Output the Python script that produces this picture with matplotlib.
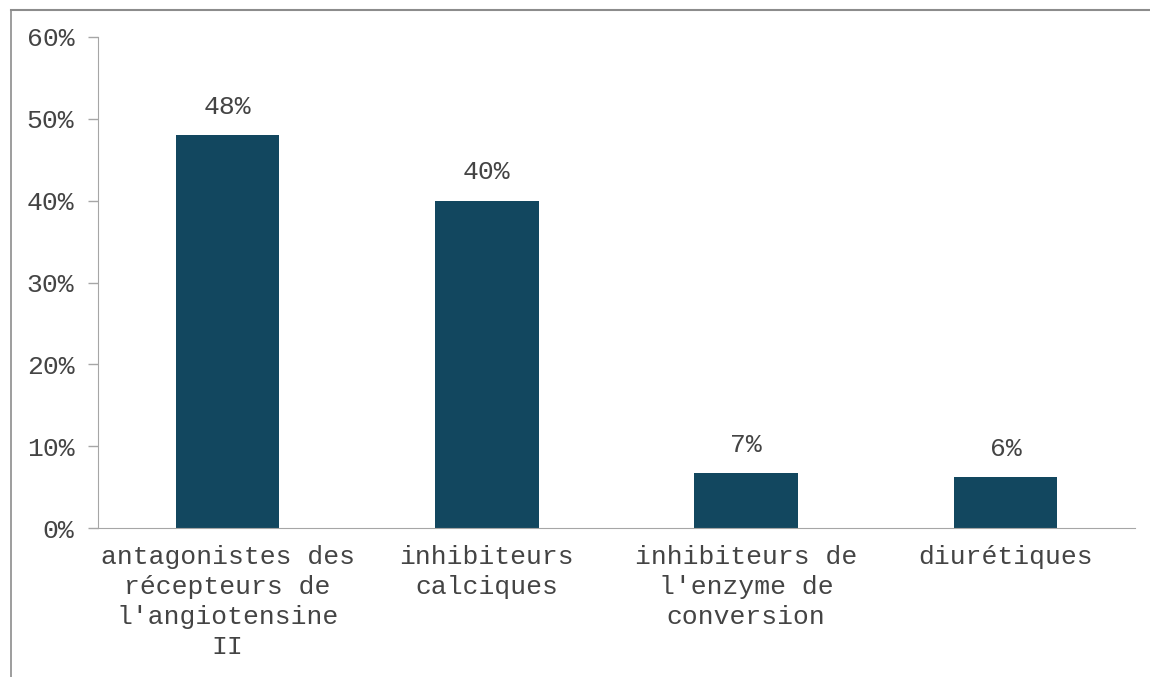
import matplotlib
matplotlib.use("Agg")
import matplotlib.pyplot as plt
from matplotlib.ticker import FuncFormatter, MultipleLocator
from matplotlib.lines import Line2D

categories = [
    "antagonistes des\nrécepteurs de\nl'angiotensine\nII",
    "inhibiteurs\ncalciques",
    "inhibiteurs de\nl'enzyme de\nconversion",
    "diurétiques",
]
shares = [48.0, 40.0, 6.7, 6.2]

bar_color = "#12475f"
text_color = "#444444"
axis_color = "#a6a6a6"
font = "Liberation Mono"
fs = 19

fig = plt.figure(figsize=(11.5, 6.77), dpi=100)
W, H = 1150, 677
ax = fig.add_axes([98 / W, 1 - 528 / H, (1135 - 98) / W, (528 - 37) / H])

x = list(range(len(categories)))
bars = ax.bar(x, shares, width=0.40, color=bar_color, zorder=2)

for rect, v in zip(bars, shares):
    ax.annotate(f"{v:.0f}%", (rect.get_x() + rect.get_width() / 2, v),
                xytext=(0, 12), textcoords="offset points",
                ha="center", va="bottom", fontsize=fs, family=font,
                color=text_color)

ax.set_xlim(-0.5, len(categories) - 0.5)
ax.set_ylim(0, 60)
ax.yaxis.set_major_locator(MultipleLocator(10))
ax.yaxis.set_major_formatter(FuncFormatter(lambda v, _: f"{v:.0f}%"))

ax.set_xticks(x)
ax.set_xticklabels(categories, family=font, fontsize=fs, color=text_color,
                   linespacing=1.33)
ax.tick_params(axis="x", length=0, pad=12)
ax.tick_params(axis="y", length=7, width=1, color=axis_color, pad=10,
               labelsize=fs, labelcolor=text_color)
for lab in ax.get_yticklabels():
    lab.set_family(font)

for side in ("top", "right"):
    ax.spines[side].set_visible(False)
ax.spines["left"].set_color(axis_color)
ax.spines["bottom"].set_color(axis_color)

# outer frame around the chart area (top and left edges)
fig.add_artist(Line2D([11 / W, 1.0], [1 - 9.5 / H, 1 - 9.5 / H],
                      transform=fig.transFigure, color="#8c8c8c", lw=1.5))
fig.add_artist(Line2D([11 / W, 11 / W], [0.0, 1 - 9.5 / H],
                      transform=fig.transFigure, color="#8c8c8c", lw=1.2))

fig.savefig("out.png", dpi=100)
